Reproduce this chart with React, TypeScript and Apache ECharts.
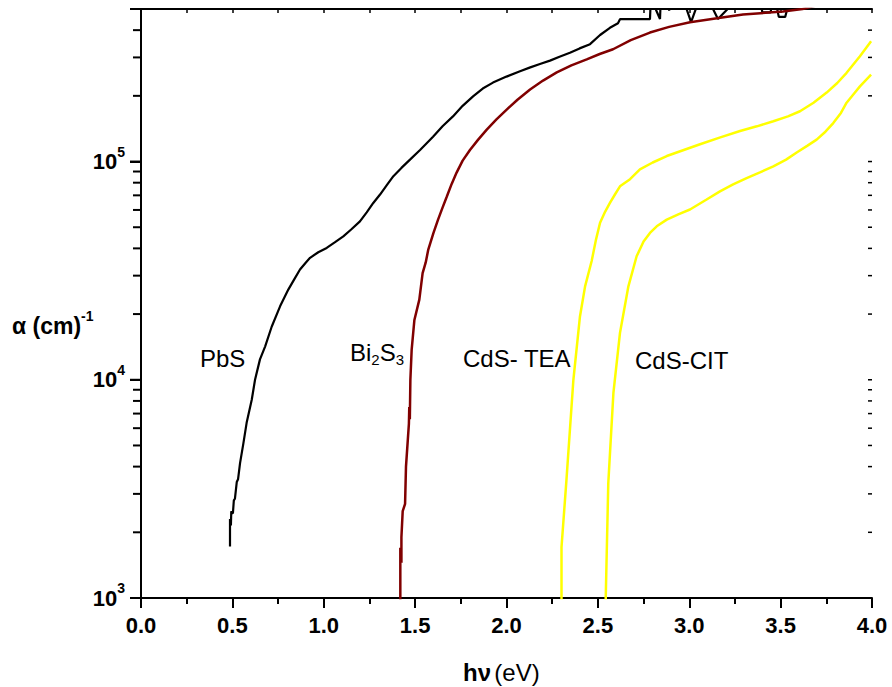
import React, { useEffect, useRef } from "react";
import * as echarts from "echarts";

const FONT = '"Liberation Sans", Arial, Helvetica, sans-serif';

// axis ranges
const X_MIN = 0;
const X_MAX = 4;
const X_STEP = 0.5;
const Y_MIN = 1e3;
const Y_MAX = 5e5;
const yMajor = [1e3, 1e4, 1e5];
const yMinor = [
  2e3, 3e3, 4e3, 5e3, 6e3, 7e3, 8e3, 9e3,
  2e4, 3e4, 4e4, 5e4, 6e4, 7e4, 8e4, 9e4,
  2e5, 3e5, 4e5,
];

// PbS absorption (hν in eV, α in cm^-1)
const pbsEnergy = [
  0.487, 0.487, 0.492, 0.494, 0.497, 0.503, 0.508, 0.514, 0.524, 0.531,
  0.542, 0.56, 0.578, 0.606, 0.624, 0.651, 0.679, 0.715, 0.761, 0.806,
  0.84, 0.87, 0.9, 0.925, 0.97, 1.016, 1.06, 1.107, 1.15, 1.198,
  1.235, 1.271, 1.308, 1.345, 1.381, 1.425, 1.472, 1.527, 1.598, 1.65,
  1.707, 1.76, 1.817, 1.87, 1.926, 2.0, 2.074, 2.13, 2.183, 2.238,
  2.29, 2.347, 2.4, 2.457, 2.512, 2.566, 2.61, 2.621, 2.785, 2.79,
  2.84, 2.845, 2.87, 2.89, 2.91, 2.975, 3.01, 3.045, 3.12, 3.157,
  3.225, 3.39, 3.4, 3.445, 3.455, 3.478, 3.49, 3.525, 3.54, 3.6,
  4.0,
];
const pbsAlpha = [
  1720, 2300, 2150, 2500, 2450, 2450, 2800, 2850, 3400, 3500,
  4150, 5100, 6350, 8100, 10000, 12400, 14200, 17500, 21700, 25900,
  29000, 32000, 34300, 36200, 38400, 40200, 42600, 45400, 48800, 53200,
  58500, 64600, 70600, 78000, 85700, 93500, 102000, 113000, 130000, 145000,
  161000, 180000, 199000, 216000, 230000, 245000, 259000, 270000, 280000, 290000,
  302000, 315000, 330000, 345000, 380000, 410000, 430000, 449000, 449000, 560000,
  450000, 580000, 600000, 492000, 600000, 530000, 435000, 525000, 520000, 450000,
  515000, 540000, 482000, 482000, 540000, 515000, 460000, 460000, 515000, 580000,
  650000,
];

// Bi2S3 absorption
const bisEnergy = [
  1.419, 1.419, 1.425, 1.425, 1.432, 1.445, 1.45, 1.466, 1.468, 1.471,
  1.474, 1.481, 1.496, 1.523, 1.541, 1.558, 1.572, 1.6, 1.625, 1.65,
  1.673, 1.7, 1.727, 1.76, 1.8, 1.845, 1.892, 1.945, 2.001, 2.06,
  2.129, 2.2, 2.275, 2.355, 2.439, 2.51, 2.583, 2.68, 2.785, 2.89,
  3.004, 3.152, 3.294, 3.513, 3.62, 3.7, 4.0,
];
const bisAlpha = [
  900, 1700, 1450, 1900, 2500, 2700, 4000, 6300, 7500, 6600,
  10000, 13700, 18800, 23300, 30800, 34500, 39500, 47000, 54000, 61500,
  69000, 79000, 89000, 101000, 113000, 126000, 140000, 156000, 173000, 192000,
  214000, 235000, 256000, 276000, 294000, 311000, 327000, 360000, 390000, 414000,
  435000, 453000, 472000, 487000, 500000, 520000, 560000,
];

// CdS (TEA bath) absorption
const cdsTeaEnergy = [
  2.301, 2.301, 2.328, 2.366, 2.402, 2.43, 2.466, 2.49, 2.512, 2.54,
  2.566, 2.595, 2.621, 2.676, 2.73, 2.8, 2.877, 2.97, 3.059, 3.17,
  3.278, 3.37, 3.46, 3.54, 3.606, 3.68, 3.752, 3.81, 3.861, 3.934,
  3.995,
];
const cdsTeaAlpha = [
  900, 1710, 3470, 10000, 19500, 26800, 35000, 44000, 52400, 59000,
  64600, 71000, 77000, 83000, 92000, 99000, 106000, 113000, 120000, 129000,
  138000, 145000, 153000, 161000, 170000, 186000, 207000, 229000, 255000, 304000,
  356000,
];

// CdS (citrate bath) absorption
const cdsCitEnergy = [
  2.543, 2.543, 2.557, 2.585, 2.621, 2.667, 2.712, 2.75, 2.785, 2.822,
  2.877, 2.94, 3.004, 3.095, 3.168, 3.24, 3.314, 3.39, 3.46, 3.53,
  3.588, 3.645, 3.697, 3.745, 3.788, 3.83, 3.861, 3.9, 3.934, 3.995,
];
const cdsCitAlpha = [
  900, 1000, 3360, 8700, 16400, 26800, 36800, 43000, 47100, 50500,
  54200, 57300, 60300, 67000, 73000, 78500, 84000, 89500, 95000, 102000,
  110000, 118000, 126000, 137000, 150000, 167000, 186000, 204000, 221000, 250000,
];

const pairs = (xs: number[], ys: number[]) => xs.map((x, i) => [x, ys[i]]);

const supLabel = (v: number) => `{b|10}{p|${Math.round(Math.log10(v))}}`;

// short frame ticks drawn as thin rectangles anchored on the right axis
const tickSeries = (
  name: string,
  data: number[][],
  size: [number, number],
  offset: [number, number]
) => ({
  name,
  type: "scatter",
  data,
  symbol: "rect",
  symbolSize: size,
  symbolOffset: offset,
  itemStyle: { color: "#000", opacity: 1 },
  clip: false,
  silent: true,
  z: 5,
});

export default function App() {
  const ref = useRef<HTMLDivElement>(null);

  useEffect(() => {
    if (!ref.current) return;
    const chart = echarts.init(ref.current, null, { renderer: "svg" });

    const black = "#000";
    const xCommon = {
      type: "value",
      min: X_MIN,
      max: X_MAX,
      interval: X_STEP,
      splitLine: { show: false },
    };
    const yCommon = {
      type: "log",
      logBase: 10,
      min: Y_MIN,
      max: Y_MAX,
      splitLine: { show: false },
    };

    const texts = [
      {
        type: "text",
        x: 12,
        y: 326,
        style: {
          text: "{b|α (cm)}{p|-1}",
          verticalAlign: "middle",
          rich: {
            b: { fontFamily: FONT, fontWeight: "bold", fontSize: 23, lineHeight: 34, verticalAlign: "middle", fill: black },
            p: { fontFamily: FONT, fontWeight: "bold", fontSize: 14, lineHeight: 14, verticalAlign: "top", fill: black },
          },
        },
      },
      {
        type: "text",
        x: 463,
        y: 672,
        style: {
          text: "{b|hν} {n|(eV)}",
          verticalAlign: "middle",
          rich: {
            b: { fontFamily: FONT, fontWeight: "bold", fontSize: 24, fill: black },
            n: { fontFamily: FONT, fontSize: 24, fill: black },
          },
        },
      },
      {
        type: "text",
        x: 200,
        y: 358,
        style: { text: "PbS", font: `24px ${FONT}`, fill: black, verticalAlign: "middle" },
      },
      {
        type: "text",
        x: 350,
        y: 352,
        style: {
          text: "{n|Bi}{s|2}{n|S}{s|3}",
          verticalAlign: "middle",
          rich: {
            n: { fontFamily: FONT, fontSize: 24, lineHeight: 30, verticalAlign: "middle", fill: black },
            s: { fontFamily: FONT, fontSize: 15, lineHeight: 15, verticalAlign: "bottom", fill: black },
          },
        },
      },
      {
        type: "text",
        x: 463,
        y: 358,
        style: { text: "CdS- TEA", font: `24px ${FONT}`, fill: black, verticalAlign: "middle" },
      },
      {
        type: "text",
        x: 635,
        y: 360,
        style: { text: "CdS-CIT", font: `24px ${FONT}`, fill: black, verticalAlign: "middle" },
      },
    ];

    chart.setOption({
      animation: false,
      backgroundColor: "#fff",
      grid: { left: 141, right: 20, top: 9, bottom: 89, containLabel: false },
      xAxis: [
        {
          ...xCommon,
          position: "bottom",
          axisLine: { show: true, lineStyle: { color: black, width: 2 } },
          axisTick: { show: true, length: 10, lineStyle: { color: black, width: 2 } },
          minorTick: { show: true, splitNumber: 2, length: 6, lineStyle: { color: black, width: 2 } },
          axisLabel: {
            margin: 16,
            color: black,
            fontFamily: FONT,
            fontWeight: "bold",
            fontSize: 22,
            formatter: (v: number) => v.toFixed(1),
          },
        },
        {
          ...xCommon,
          position: "top",
          axisLine: { show: true, lineStyle: { color: black, width: 2 } },
          axisTick: { show: true, inside: true, length: 4, lineStyle: { color: black, width: 1.5 } },
          minorTick: { show: true, splitNumber: 2, length: 4, lineStyle: { color: black, width: 1.5 } },
          axisLabel: { show: false },
        },
      ],
      yAxis: [
        {
          ...yCommon,
          position: "left",
          axisLine: { show: true, lineStyle: { color: black, width: 2 } },
          axisTick: { show: true, length: 11, lineStyle: { color: black, width: 2 } },
          axisLabel: {
            customValues: yMajor,
            margin: 16,
            color: black,
            formatter: (v: number) => supLabel(v),
            rich: {
              b: { fontFamily: FONT, fontWeight: "bold", fontSize: 22, lineHeight: 34, verticalAlign: "middle", color: black },
              p: { fontFamily: FONT, fontWeight: "bold", fontSize: 14, lineHeight: 14, verticalAlign: "top", color: black },
            },
          },
        },
        {
          ...yCommon,
          position: "right",
          axisLine: { show: true, lineStyle: { color: black, width: 2 } },
          axisTick: { show: false },
          axisLabel: { show: false },
        },
      ],
      series: [
        {
          name: "PbS",
          type: "line",
          data: pairs(pbsEnergy, pbsAlpha),
          showSymbol: false,
          lineStyle: { color: "#000000", width: 2.2 },
          clip: true,
        },
        {
          name: "Bi2S3",
          type: "line",
          data: pairs(bisEnergy, bisAlpha),
          showSymbol: false,
          lineStyle: { color: "#800000", width: 2.5 },
          clip: true,
        },
        {
          name: "CdS-TEA",
          type: "line",
          data: pairs(cdsTeaEnergy, cdsTeaAlpha),
          showSymbol: false,
          lineStyle: { color: "#ffff00", width: 2.5 },
          clip: true,
        },
        {
          name: "CdS-CIT",
          type: "line",
          data: pairs(cdsCitEnergy, cdsCitAlpha),
          showSymbol: false,
          lineStyle: { color: "#ffff00", width: 2.5 },
          clip: true,
        },
        tickSeries("right ticks", [...yMajor, ...yMinor].map((v) => [X_MAX, v]), [4, 1.5], [-2, 0]),
      ],
      graphic: texts,
    });

    // left sub-decade and decade ticks, placed through the grid's own scales
    const tickLine = (v: number, len: number) => {
      const pt = chart.convertToPixel({ gridIndex: 0 }, [X_MIN, v]) as number[];
      return {
        type: "line",
        silent: true,
        z: 100,
        shape: { x1: pt[0] - len, y1: pt[1], x2: pt[0], y2: pt[1] },
        style: { stroke: black, lineWidth: 2 },
      };
    };
    const frameTicks = [
      ...yMajor.map((v) => tickLine(v, 11)),
      ...yMinor.map((v) => tickLine(v, 8)),
    ];
    chart.setOption({ graphic: [...texts, ...frameTicks] });

    return () => chart.dispose();
  }, []);

  return (
    <div
      ref={ref}
      style={{ position: "fixed", left: 0, top: 0, width: 892, height: 687, background: "#fff" }}
    />
  );
}
